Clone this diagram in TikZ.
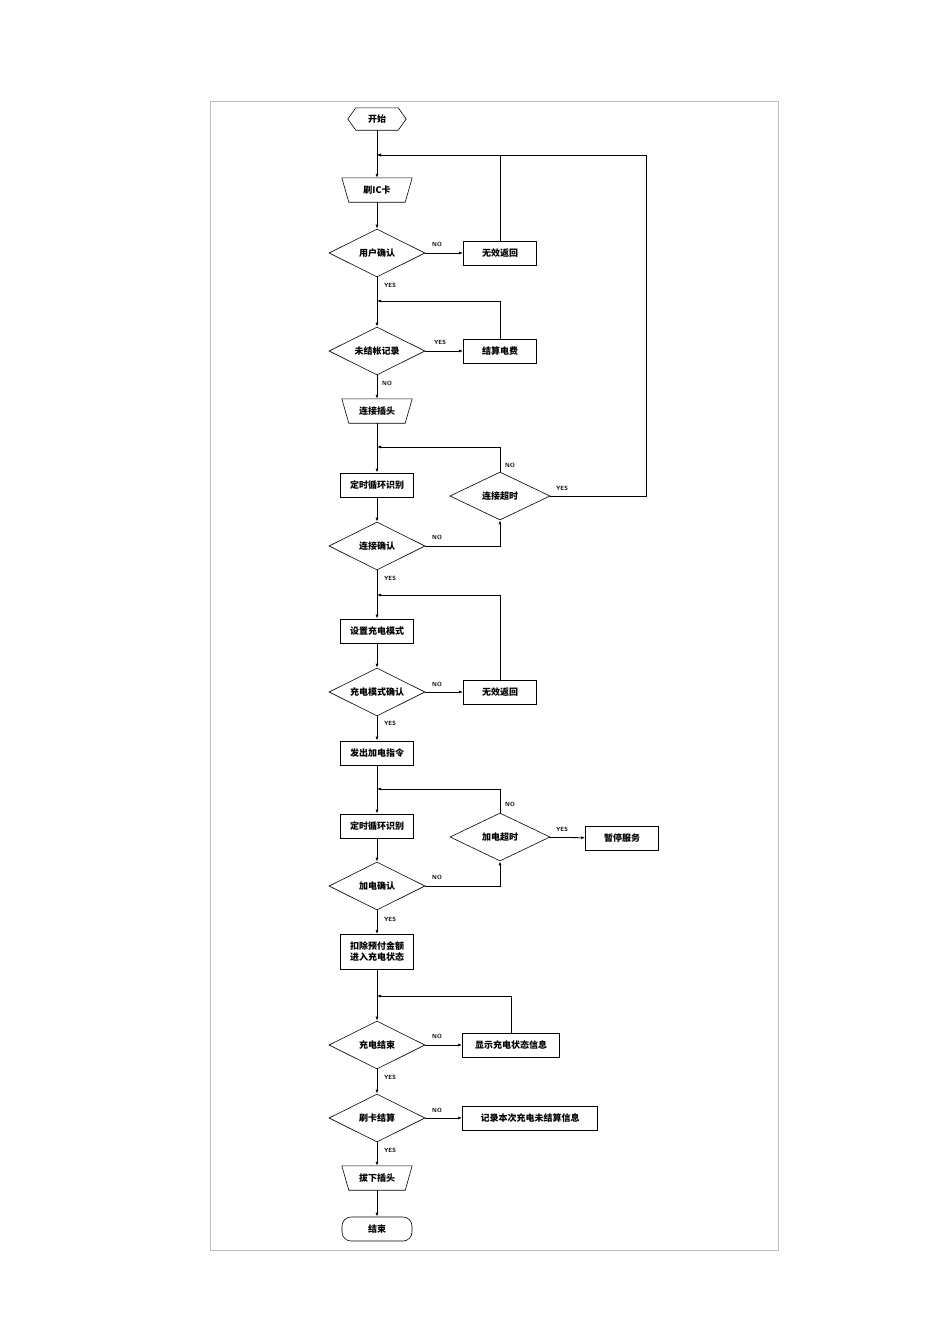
\documentclass[tikz,border=0pt]{standalone}
\usepackage{fontspec}
\newfontfamily\cjk{Noto Sans CJK SC}
\usetikzlibrary{shapes.geometric,arrows.meta}
\begin{document}
\begin{tikzpicture}[x=1pt,y=-1pt,
  txt/.style={font=\cjk\bfseries\fontsize{9}{11}\selectfont, inner sep=0pt},
  box/.style={txt, draw, line width=0.8pt, minimum width=73pt, minimum height=24pt},
  dia/.style={txt, draw, line width=0.6pt, diamond, aspect=2, minimum width=96pt, minimum height=48pt, inner sep=0pt},
  sh/.style={txt, minimum width=70pt, minimum height=24pt},
  lab/.style={font=\sffamily\bfseries\fontsize{6}{7}\selectfont, inner sep=0pt},
  ln/.style={line width=0.8pt},
  arr/.style={ln, -{Latex[length=4pt,width=3pt]}}]
\useasboundingbox (0,0) rectangle (950,1344);
\draw[gray!50, line width=0.6pt] (210,101) rectangle (778,1250);
% nodes
\node[sh, minimum width=58pt, minimum height=22pt] (start) at (377,119) {开始};
\draw[line width=0.6pt] (start.west) -- ([xshift=8pt]start.north west) -- ([xshift=-8pt]start.north east) -- (start.east) -- ([xshift=-8pt]start.south east) -- ([xshift=8pt]start.south west) -- cycle;
\node[sh] (card) at (377,190) {刷IC卡};
\draw[line width=0.6pt] (card.north west) -- (card.north east) -- ([xshift=-7pt]card.south east) -- ([xshift=7pt]card.south west) -- cycle;
\node[dia] (user) at (377,253) {用户确认};
\node[box] (inv1) at (500,253) {无效返回};
\node[dia] (unpaid) at (377,351) {未结帐记录};
\node[box] (settle) at (500,351) {结算电费};
\node[sh] (plug) at (377,411) {连接插头};
\draw[line width=0.6pt] (plug.north west) -- (plug.north east) -- ([xshift=-7pt]plug.south east) -- ([xshift=7pt]plug.south west) -- cycle;
\node[box] (scan1) at (377,485) {定时循环识别};
\node[dia, minimum width=100pt] (cto) at (500,496) {连接超时};
\node[dia] (cok) at (377,546) {连接确认};
\node[box] (mode) at (377,631) {设置充电模式};
\node[dia] (mok) at (377,692) {充电模式确认};
\node[box] (inv2) at (500,692) {无效返回};
\node[box] (power) at (377,753) {发出加电指令};
\node[box] (scan2) at (377,826) {定时循环识别};
\node[dia, minimum width=100pt] (pto) at (500,837) {加电超时};
\node[box] (pause) at (622,838) {暂停服务};
\node[dia] (pok) at (377,886) {加电确认};
\node[box, minimum height=35pt, align=center] (deduct) at (377,952) {扣除预付金额\\进入充电状态};
\node[dia] (cend) at (377,1045) {充电结束};
\node[box, minimum width=97pt] (show) at (511,1045) {显示充电状态信息};
\node[dia] (cset) at (377,1118) {刷卡结算};
\node[box, minimum width=135pt] (rec) at (530,1118) {记录本次充电未结算信息};
\node[sh] (unplug) at (377,1178) {拔下插头};
\draw[line width=0.6pt] (unplug.north west) -- (unplug.north east) -- ([xshift=-7pt]unplug.south east) -- ([xshift=7pt]unplug.south west) -- cycle;
\node[sh, draw, line width=0.6pt, rounded corners=9pt] (fin) at (377,1229) {结束};
% junctions
\coordinate (j1) at (377,155);
\coordinate (j2) at (377,301);
\coordinate (j3) at (377,447);
\coordinate (j4) at (377,595);
\coordinate (j5) at (377,789);
\coordinate (j6) at (377,996);
% main flow
\draw[ln] (start) -- (j1);
\draw[arr] (j1) -- (card);
\draw[arr] (card) -- (user);
\draw[ln] (user) -- (j2);
\draw[arr] (j2) -- (unpaid);
\draw[arr] (unpaid) -- (plug);
\draw[ln] (plug) -- (j3);
\draw[arr] (j3) -- (scan1);
\draw[arr] (scan1) -- (cok);
\draw[ln] (cok) -- (j4);
\draw[arr] (j4) -- (mode);
\draw[arr] (mode) -- (mok);
\draw[arr] (mok) -- (power);
\draw[ln] (power) -- (j5);
\draw[arr] (j5) -- (scan2);
\draw[arr] (scan2) -- (pok);
\draw[arr] (pok) -- (deduct);
\draw[ln] (deduct) -- (j6);
\draw[arr] (j6) -- (cend);
\draw[arr] (cend) -- (cset);
\draw[arr] (cset) -- (unplug);
\draw[arr] (unplug) -- (fin);
% side branches
\draw[arr] (user) -- (inv1);
\draw[arr] (inv1.north) |- (j1);
\draw[arr] (unpaid) -- (settle);
\draw[arr] (settle.north) |- (j2);
\draw[arr] (cok.east) -| (cto.south);
\draw[arr] (cto.north) |- (j3);
\draw[arr] (cto.east) -- (646,496) |- (j1);
\draw[arr] (mok) -- (inv2);
\draw[arr] (inv2.north) |- (j4);
\draw[arr] (pok.east) -| (pto.south);
\draw[arr] (pto.north) |- (j5);
\draw[arr] (pto) -- (pause);
\draw[arr] (cend) -- (show);
\draw[arr] (show.north) |- (j6);
\draw[arr] (cset) -- (rec);
% labels
\node[lab] (l1) at (437,244) {NO};
\node[lab] (l2) at (390,285) {YES};
\node[lab] (l3) at (440,342) {YES};
\node[lab] (l4) at (387,383) {NO};
\node[lab] (l5) at (510,465) {NO};
\node[lab] (l6) at (562,488) {YES};
\node[lab] (l7) at (437,537) {NO};
\node[lab] (l8) at (390,578) {YES};
\node[lab] (l9) at (437,684) {NO};
\node[lab] (l10) at (390,723) {YES};
\node[lab] (l11) at (510,804) {NO};
\node[lab] (l12) at (562,829) {YES};
\node[lab] (l13) at (437,877) {NO};
\node[lab] (l14) at (390,919) {YES};
\node[lab] (l15) at (437,1036) {NO};
\node[lab] (l16) at (390,1077) {YES};
\node[lab] (l17) at (437,1110) {NO};
\node[lab] (l18) at (390,1150) {YES};
\end{tikzpicture}
\end{document}
